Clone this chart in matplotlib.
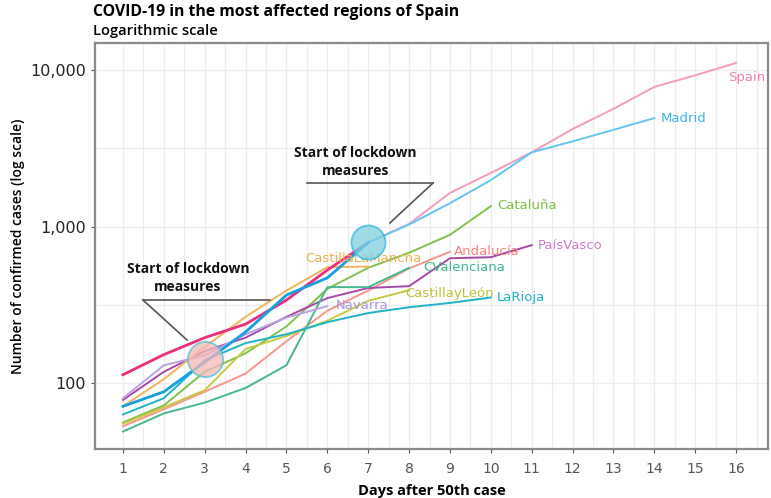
import matplotlib
matplotlib.use("Agg")
import matplotlib.pyplot as plt
import numpy as np

# ---------------- data ----------------
days = list(range(1, 17))

spain = [113, 152, 195, 238, 339, 527, 790, 1040, 1640, 2200, 2980, 4200, 5650, 7800, 9250, 11100]
madrid = [71, 88, 136, 212, 365, 470, 790, 1030, 1410, 1980, 2980, 3500, 4150, 4930]
cataluna = [56, 72, 118, 155, 230, 400, 545, 680, 885, 1350]
andalucia = [53, 68, 88, 115, 185, 290, 390, 540, 690]
paisvasco = [78, 118, 160, 195, 265, 349, 405, 416, 627, 637, 760]
cvalenciana = [49, 64, 75, 93, 130, 410, 410, 545]
castillalamancha = [71, 106, 170, 265, 390, 550, 555]
castillayleon = [55, 70, 90, 165, 200, 250, 335, 392]
navarra = [80, 130, 150, 205, 262, 310]
larioja = [63, 80, 140, 180, 205, 245, 280, 305, 325, 352]

series = [
    ("Spain", spain, "#f59ac0"),
    ("Madrid", madrid, "#62c6ef"),
    ("Cataluña", cataluna, "#7ec24a"),
    ("Andalucía", andalucia, "#f8968c"),
    ("PaísVasco", paisvasco, "#a648a8"),
    ("CValenciana", cvalenciana, "#42b98e"),
    ("CastillaLaMancha", castillalamancha, "#f0b55a"),
    ("CastillayLeón", castillayleon, "#c9c842"),
    ("Navarra", navarra, "#b9a3e3"),
    ("LaRioja", larioja, "#1fb3c6"),
]
label_colors = {
    "Spain": "#f07fb0", "Madrid": "#3cb4ea", "Cataluña": "#78c040",
    "Andalucía": "#f6857a", "PaísVasco": "#d27cc8", "CValenciana": "#3cb88a",
    "CastillaLaMancha": "#eeb04e", "CastillayLeón": "#c0bf38",
    "Navarra": "#a994dc", "LaRioja": "#22b0c8",
}
# label anchor (day, value, horizontal alignment)
label_pos = {
    "Spain": (16.72, 8900, "right"), "Madrid": (14.15, 4900, "left"),
    "Cataluña": (10.15, 1360, "left"), "Andalucía": (9.1, 690, "left"),
    "PaísVasco": (11.15, 760, "left"), "CValenciana": (8.35, 545, "left"),
    "CastillaLaMancha": (5.45, 625, "left"), "CastillayLeón": (7.9, 372, "left"),
    "Navarra": (6.2, 312, "left"), "LaRioja": (10.15, 350, "left"),
}

lockdown_days = [3, 7]
lockdown_vals = [142, 797]

xticks = list(range(1, 17))
yticks = [100, 1000, 10000]
yticklabels = ["100", "1,000", "10,000"]

# ---------------- figure ----------------
fig = plt.figure(figsize=(7.71, 4.98), dpi=100)
ax = fig.add_axes([95/771, 1-449/498, 673/771, 406/498])
ax.set_yscale("log")
ax.set_xlim(0.315, 16.78)
ax.set_ylim(37.9, 14880)

# grid
for d in np.arange(1, 17, 0.5):
    ax.axvline(d, color="#ededed", lw=0.9, zorder=0)
for v in [100, 316, 1000, 3162, 10000]:
    ax.axhline(v, color="#ededed", lw=0.9, zorder=0)

for name, vals, col in series:
    ax.plot(days[:len(vals)], vals, color=col, lw=1.4, zorder=3)

# bold highlighted early segments
ax.plot(days[:7], spain[:7], color="#ea2f7d", lw=2.0, zorder=4)
ax.plot(days[:7], madrid[:7], color="#16a0df", lw=2.0, zorder=4)

for name, vals, col in series:
    x, y, ha = label_pos[name]
    ax.text(x, y, name, color=label_colors[name], fontsize=9.5,
            family=["Liberation Sans Narrow", "DejaVu Sans"],
            ha=ha, va="center", zorder=5)

# lockdown circles
ax.scatter(lockdown_days[:1], lockdown_vals[:1], s=640, color="#f6b8b8",
           edgecolor="#4cc0d0", lw=1.3, alpha=0.75, zorder=6)
ax.scatter(lockdown_days[1:], lockdown_vals[1:], s=600, color="#7fd0e0",
           edgecolor="#2cb8dc", lw=1.3, alpha=0.75, zorder=6)

# annotations
ann_kw = dict(ha="center", va="center", fontsize=10, fontweight="bold",
              family="Open Sans", color="#111111", linespacing=1.35, zorder=7)
ax.text(2.59, 470, "Start of lockdown\nmeasures", **ann_kw)
ax.plot([1.49, 4.6], [339, 339], color="#555555", lw=1.2, zorder=7)
ax.plot([1.49, 2.57], [339, 188], color="#555555", lw=1.2, zorder=7)
ax.text(6.68, 2580, "Start of lockdown\nmeasures", **ann_kw)
ax.plot([5.5, 8.585], [1898, 1898], color="#555555", lw=1.2, zorder=7)
ax.plot([8.585, 7.53], [1898, 1055], color="#555555", lw=1.2, zorder=7)

# axes styling
ax.set_xticks(xticks)
ax.set_xticklabels([str(t) for t in xticks], color="#555555", fontsize=10,
                   family=["Liberation Sans Narrow", "DejaVu Sans"])
ax.set_yticks(yticks)
ax.set_yticklabels(yticklabels, fontsize=11.5, color="#222222", family="DejaVu Sans")
ax.yaxis.set_minor_locator(matplotlib.ticker.NullLocator())
ax.tick_params(axis="both", length=3, color="#555555", width=0.8)
ax.tick_params(axis="x", pad=6)
for s in ax.spines.values():
    s.set_color("#8a8a8a")
    s.set_linewidth(1.6)

ax.set_xlabel("Days after 50th case", fontsize=10.5, fontweight="bold",
              family="Open Sans", labelpad=6)
ax.set_ylabel("Number of confirmed cases (log scale)", fontsize=10,
              fontweight="semibold", family="Open Sans", labelpad=4)

fig.text(93/771, 1-12/498, "COVID-19 in the most affected regions of Spain",
         fontsize=11.3, fontweight="bold", family="Open Sans", ha="left", va="center")
fig.text(93/771, 1-31/498, "Logarithmic scale", fontsize=10.6,
         fontweight="semibold", family="Open Sans", ha="left", va="center")

fig.savefig("out.png", dpi=100)
